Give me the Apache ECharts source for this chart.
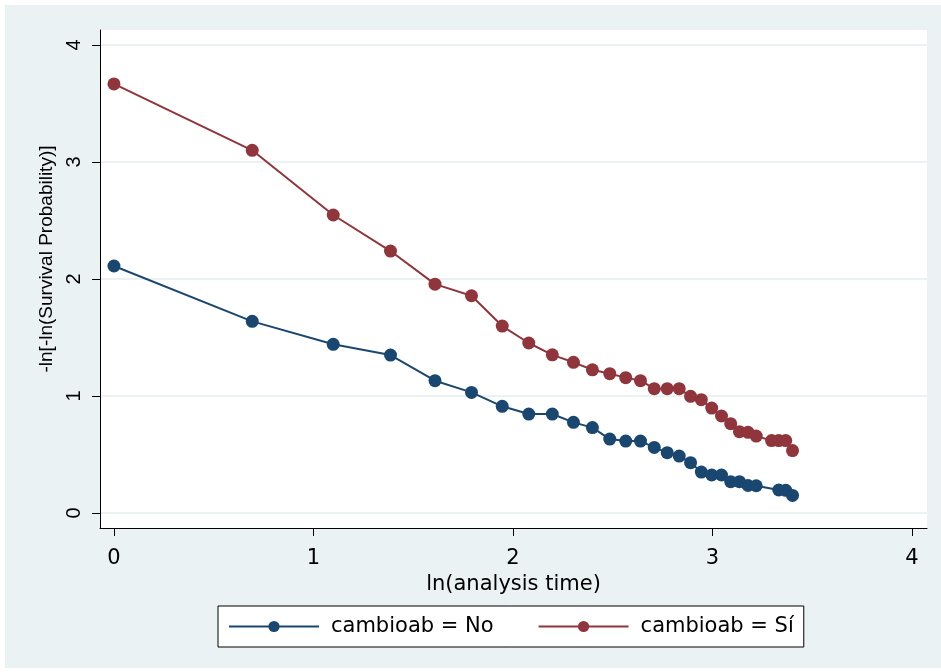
<!DOCTYPE html>
<html>
<head>
<meta charset="utf-8">
<script src="https://cdn.jsdelivr.net/npm/echarts@6/dist/echarts.min.js"></script>
<style>
  html, body { margin: 0; padding: 0; background: #ffffff; }
  #chart { width: 941px; height: 672px; }
</style>
</head>
<body>
<div id="chart"></div>
<script>
// ln(analysis time) at each failure time, per group
const lnTimeNo = [0, 0.693, 1.099, 1.386, 1.609, 1.792, 1.946, 2.079, 2.197, 2.303,
  2.398, 2.485, 2.565, 2.639, 2.708, 2.773, 2.833, 2.890, 2.944, 2.996,
  3.045, 3.091, 3.135, 3.178, 3.219, 3.332, 3.367, 3.401];
const lnTimeSi = [0, 0.693, 1.099, 1.386, 1.609, 1.792, 1.946, 2.079, 2.197, 2.303,
  2.398, 2.485, 2.565, 2.639, 2.708, 2.773, 2.833, 2.890, 2.944, 2.996,
  3.045, 3.091, 3.135, 3.178, 3.219, 3.296, 3.332, 3.367, 3.401];

// -ln[-ln(S(t))] values
const logLogNo = [2.111, 1.638, 1.442, 1.350, 1.131, 1.031, 0.912, 0.846, 0.846, 0.775,
  0.730, 0.632, 0.615, 0.615, 0.561, 0.516, 0.487, 0.430, 0.350, 0.325,
  0.325, 0.268, 0.268, 0.235, 0.233, 0.197, 0.194, 0.150];
const logLogSi = [3.667, 3.100, 2.547, 2.239, 1.956, 1.857, 1.598, 1.453, 1.352, 1.288,
  1.224, 1.191, 1.157, 1.131, 1.063, 1.063, 1.063, 0.997, 0.969, 0.897,
  0.829, 0.764, 0.695, 0.690, 0.658, 0.619, 0.619, 0.619, 0.534];

const xTicks = [0, 1, 2, 3, 4];
const yTicks = [0, 1, 2, 3, 4];
const seriesNames = ['cambioab = No', 'cambioab = Sí'];

// horizontal text uses a wider face, the rotated y-axis text a narrower one
const FONT_H = 'DejaVu Sans, Liberation Sans, sans-serif';
const FONT_V = 'Liberation Sans, Arial, sans-serif';
const BG = '#EAF2F3';
const BLUE = '#1A476F';
const RED = '#90353B';

const zip = (xs, ys) => xs.map((x, i) => [x, ys[i]]);

const chart = echarts.init(document.getElementById('chart'), null, { renderer: 'canvas' });

chart.setOption({
  backgroundColor: '#ffffff',
  animation: false,
  textStyle: { fontFamily: FONT_H, color: '#000' },
  graphic: [{
    type: 'rect', z: -10, silent: true,
    shape: { x: 5, y: 5, width: 936, height: 663 },
    style: { fill: BG }
  }],
  grid: {
    left: 100, right: 14, top: 30, bottom: 144,
    show: true, backgroundColor: '#ffffff', borderWidth: 0
  },
  xAxis: {
    type: 'value',
    min: -0.07, max: 4.075,
    name: 'ln(analysis time)',
    nameLocation: 'middle',
    nameGap: 37,
    nameTextStyle: { fontSize: 21, color: '#000', fontFamily: FONT_H },
    axisLine: { show: true, onZero: false, lineStyle: { color: '#000', width: 1 } },
    axisTick: { show: true, length: 8, customValues: xTicks, lineStyle: { color: '#000' } },
    axisLabel: { customValues: xTicks, fontSize: 21, color: '#000', margin: 20, fontFamily: FONT_H },
    splitLine: { show: false }
  },
  yAxis: {
    type: 'value',
    min: -0.128, max: 4.128,
    name: '-ln[-ln(Survival Probability)]',
    nameLocation: 'middle',
    nameGap: 41,
    nameTextStyle: { fontSize: 19, color: '#000', fontFamily: FONT_V, padding: [0, 0, 0, 40] },
    axisLine: { show: true, onZero: false, lineStyle: { color: '#000', width: 1 } },
    axisTick: { show: true, length: 8, customValues: yTicks, lineStyle: { color: '#000' } },
    axisLabel: { customValues: yTicks, rotate: 90, fontSize: 20, color: '#000', margin: 16, fontFamily: FONT_V },
    splitLine: { show: true, lineStyle: { color: BG, width: 2 } }
  },
  legend: {
    bottom: 25,
    left: 218,
    data: seriesNames,
    backgroundColor: '#ffffff',
    borderColor: '#000',
    borderWidth: 1,
    borderRadius: 0,
    padding: [10, 10, 10, 10],
    itemWidth: 90,
    itemHeight: 14,
    itemGap: 44,
    textStyle: { fontSize: 21, color: '#000', fontFamily: FONT_H, padding: [0, 0, 0, 7] }
  },
  series: [
    {
      name: seriesNames[0], type: 'line',
      data: zip(lnTimeNo, logLogNo),
      symbol: 'circle', symbolSize: 13,
      lineStyle: { color: BLUE, width: 2 },
      itemStyle: { color: BLUE }
    },
    {
      name: seriesNames[1], type: 'line',
      data: zip(lnTimeSi, logLogSi),
      symbol: 'circle', symbolSize: 13,
      lineStyle: { color: RED, width: 2 },
      itemStyle: { color: RED }
    }
  ]
});
</script>
</body>
</html>
